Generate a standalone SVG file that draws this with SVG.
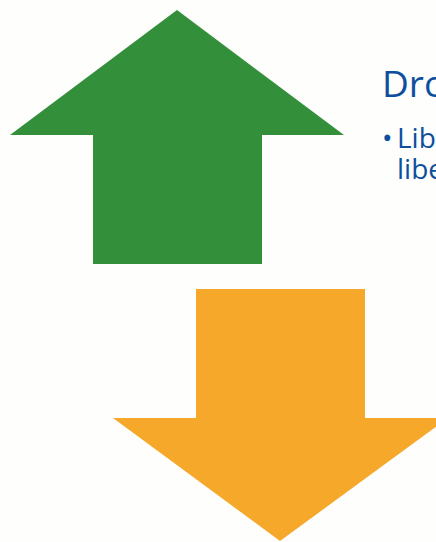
<svg xmlns="http://www.w3.org/2000/svg" width="436" height="542" viewBox="0 0 436 542">
<style>
.t{font-family:"Open Sans","Noto Sans","Liberation Sans",sans-serif;fill:#0d4f9e}
</style>
<rect width="436" height="542" fill="#fefefc"/>
<g id="up-arrow">
<polygon points="177,10 344,135 262,135 262,264 93,264 93,135 10,135" fill="#338f3a"/>
</g>
<g id="down-arrow">
<polygon points="196,289 365,289 365,418 448,418 280,541 113,418 196,418" fill="#f5a82a"/>
</g>
<g id="text">
<text class="t" x="382" y="97" font-size="37">Dro</text>
<text class="t" x="382" y="148" font-size="28">•</text>
<text class="t" x="397" y="148" font-size="28">Lib</text>
<text class="t" x="397" y="179" font-size="28">libe</text>
</g>
<g id="connectors"/>
</svg>
